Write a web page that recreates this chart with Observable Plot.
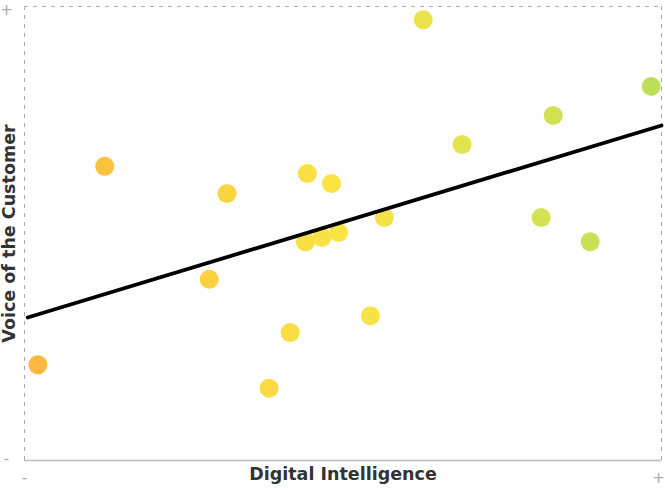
<!DOCTYPE html>
<html>
<head>
<meta charset="utf-8">
<script src="https://cdn.jsdelivr.net/npm/d3@7"></script>
<script src="https://cdn.jsdelivr.net/npm/@observablehq/plot@0.6"></script>
<style>
  html, body { margin: 0; padding: 0; background: #fff; }
  #chart svg { display: block; }
</style>
</head>
<body>
<div id="chart"></div>
<script>
// Digital Intelligence (x) vs Voice of the Customer (y), both on a 0–100 scale
const digitalIntelligence = [2.1, 12.6, 31.8, 29.0, 38.4, 41.7, 44.4, 48.2, 44.1, 46.7, 49.3, 54.3, 56.5, 62.6, 68.7, 81.1, 83.0, 88.8, 98.4];
const voiceOfCustomer     = [21.1, 64.8, 58.8, 39.9, 15.9, 28.2, 63.2, 61.0, 48.2, 49.1, 50.2, 31.9, 53.5, 97.1, 69.6, 53.5, 76.0, 48.2, 82.4];
// trend line end points
const trendX = [0.5, 100];
const trendY = [31.5, 73.8];
const xLabel = "Digital Intelligence";
const yLabel = "Voice of the Customer";

const points = digitalIntelligence.map((x, i) => ({x, y: voiceOfCustomer[i]}));
const trend = trendX.map((x, i) => ({x, y: trendY[i]}));

const font = "'DejaVu Sans', sans-serif";
const sign = {fontSize: 15, fill: "#aaa", textAnchor: "middle", lineAnchor: "middle"};

const chart = Plot.plot({
  width: 665,
  height: 490,
  marginLeft: 24,
  marginRight: 4,
  marginTop: 6,
  marginBottom: 30,
  x: {domain: [0, 100], axis: null},
  y: {domain: [0, 100], axis: null},
  color: {type: "linear", domain: [0, 50, 100], range: ["#FDB63E", "#FAE545", "#BDDF5C"]},
  style: {fontFamily: font, background: "#fff"},
  marks: [
    Plot.ruleY([100], {stroke: "#aaa", strokeDasharray: "4,5", strokeWidth: 1}),
    Plot.ruleX([0, 100], {stroke: "#aaa", strokeDasharray: "4,5", strokeWidth: 1}),
    Plot.ruleY([0], {stroke: "#bbb", strokeWidth: 1.5}),
    Plot.dot(points, {x: "x", y: "y", r: 9.5, fill: "x", stroke: null}),
    Plot.line(trend, {x: "x", y: "y", stroke: "#000", strokeWidth: 3.8}),
    Plot.text([xLabel], {frameAnchor: "bottom", dy: 19, fontSize: 17.5, fontWeight: "bold", fill: "#333"}),
    Plot.text([yLabel], {frameAnchor: "left", dx: -15, rotate: -90, textAnchor: "middle", fontSize: 17.5, fontWeight: "bold", fill: "#333"}),
    Plot.text(["+"], {frameAnchor: "top-left", dx: -18, dy: 4, ...sign}),
    Plot.text(["-"], {frameAnchor: "bottom-left", dx: -18, dy: -1, ...sign}),
    Plot.text(["-"], {frameAnchor: "bottom-left", dx: 0, dy: 18, ...sign}),
    Plot.text(["+"], {frameAnchor: "bottom-right", dx: -3, dy: 18, ...sign})
  ]
});
document.getElementById("chart").appendChild(chart);
</script>
</body>
</html>
